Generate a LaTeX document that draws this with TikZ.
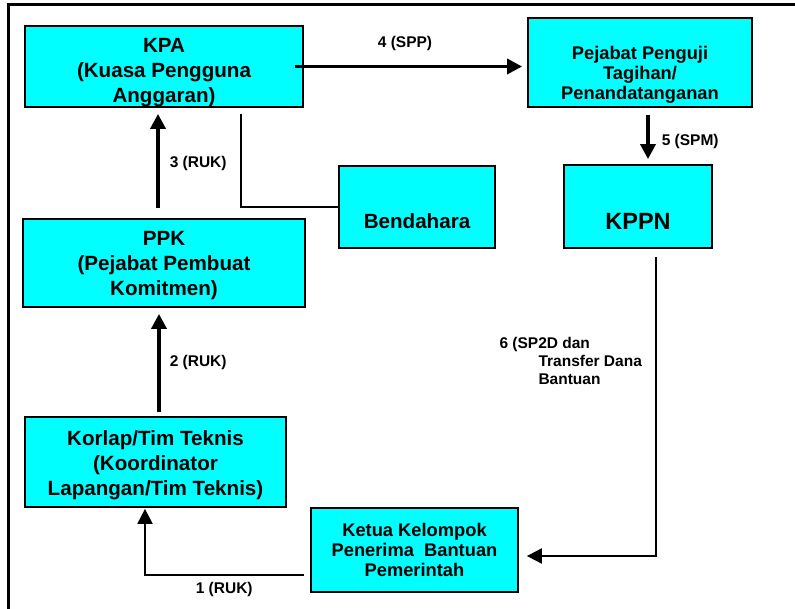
\documentclass[tikz,border=0pt]{standalone}
\usepackage{fontspec}
\setmainfont{Liberation Sans}
\usepackage{tikz}
\usetikzlibrary{arrows.meta}
\usetikzlibrary{calc}
\definecolor{bxcyan}{RGB}{0,255,255}
\newcommand{\bxfnt}{\fontsize{20.6}{25}\selectfont\bfseries}
\newcommand{\bxfntsm}{\fontsize{18.3}{20}\selectfont\bfseries}
\newcommand{\bxfntlg}{\fontsize{23.5}{28}\selectfont\bfseries}
\newcommand{\lblfnt}{\fontsize{15.5}{18}\selectfont\bfseries}
\newcommand{\lblind}{\hspace*{39pt}}

\begin{document}
\begin{tikzpicture}[x=1pt,y=-1pt,
    bx/.style={draw=black,line width=1.8pt,fill=bxcyan,align=center,inner sep=0pt},
    txtlow/.style={text height=#1,text depth=4.4pt},
    thk/.style={line width=3.5pt,-{Triangle[length=15pt,width=15pt]}},
    thn/.style={line width=2.2pt,-{Triangle[length=15pt,width=15pt]}},
    lbl/.style={font=\lblfnt,inner sep=0pt}]
    \useasboundingbox (0,0) rectangle (795,609);
    \draw[line width=3pt] (8,615) -- (8,5) -- (800,5);

    % boxes
    \node[bx,font=\bxfnt,minimum width=278pt,minimum height=81pt,txtlow=76pt]
      (kpa) at (164,66.5) {KPA\\(Kuasa Pengguna\\Anggaran)};
    \node[bx,font=\bxfntsm,minimum width=224pt,minimum height=89pt,
      text height=78pt,text depth=4pt]
      (pnguji) at (640,62.5) {Pejabat Penguji\\Tagihan/\\Penandatanganan};
    \node[bx,font=\bxfntlg,minimum width=148pt,minimum height=83pt,
      text height=47pt,text depth=0pt]
      (kppn) at (638,206.5) {KPPN};
    \node[bx,font=\bxfnt,minimum width=156pt,minimum height=82pt,
      text height=42.6pt,text depth=0pt]
      (bndhr) at (417,207) {Bendahara};
    \node[bx,font=\bxfnt,minimum width=282pt,minimum height=88pt,txtlow=69pt]
      (ppk) at (164,263) {PPK\\(Pejabat Pembuat\\Komitmen)};
    \node[bx,font=\bxfnt,minimum width=261pt,minimum height=90pt,txtlow=71pt]
      (korlap) at (155.5,462) {Korlap/Tim Teknis\\(Koordinator\\Lapangan/Tim Teknis)};
    \node[bx,font=\bxfntsm,minimum width=207pt,minimum height=84pt]
      (ketua) at (414.5,550) {Ketua Kelompok\\Penerima~~Bantuan\\Pemerintah};

    % connectors
    \draw[thn,shorten <=6pt,shorten >=1pt] ([yshift=-25pt]ketua.west)
      -| node[lbl,pos=0.26,below=6pt] {1 (RUK)} ([xshift=-10.5pt]korlap.south);
    \draw[thk,shorten <=4pt,shorten >=6pt] ([xshift=3.5pt]korlap.north)
      -- node[lbl,right=9pt] {2 (RUK)} ([xshift=3.5pt]korlap.north |- ppk.south);
    \draw[thk,shorten <=10pt,shorten >=6pt] ([xshift=-6pt]ppk.north)
      -- node[lbl,right=10pt] {3 (RUK)} ([xshift=-6pt]kpa.south);
    \draw[thk,shorten >=5pt] ([xshift=-9pt]kpa.east)
      -- node[lbl,above=14pt,xshift=-6pt] {4 (SPP)} (kpa.east -| pnguji.west);
    \draw[thk,shorten <=7pt,shorten >=5pt] ([xshift=8pt]pnguji.south)
      -- node[lbl,right=12pt,yshift=-5pt] {5 (SPM)} ([xshift=8pt]pnguji.south |- kppn.north);
    \draw[thn,shorten <=8pt,shorten >=8pt] ([xshift=18pt]kppn.south)
      |- node[lbl,pos=0.183,anchor=east,xshift=-13pt,align=left]
      {6 (SP2D dan\\\lblind Transfer Dana\\\lblind Bantuan} ([yshift=-6pt]ketua.east);
    \draw[line width=1.4pt] ([xshift=77pt,yshift=-6pt]kpa.south) |- (bndhr.west);
\end{tikzpicture}
\end{document}
